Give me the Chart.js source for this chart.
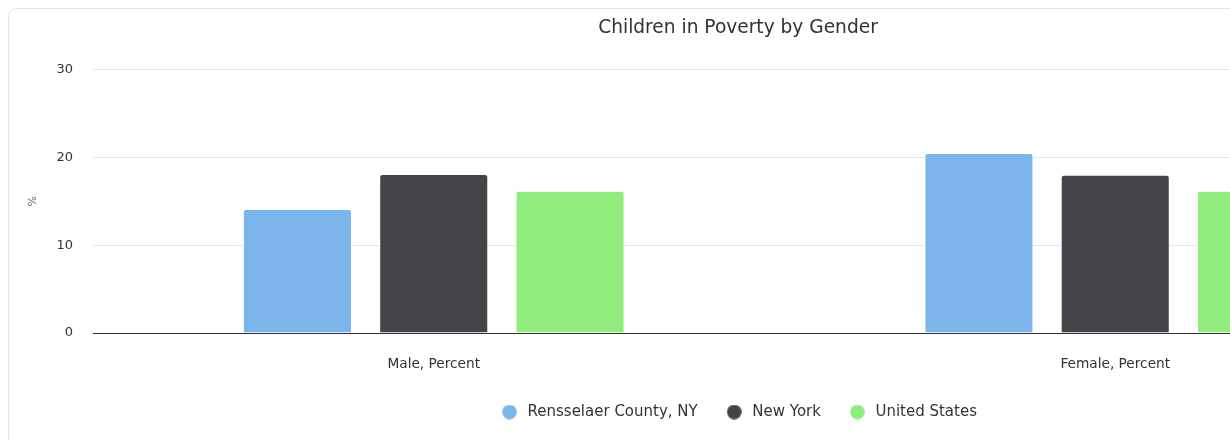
<!DOCTYPE html>
<html>
<head>
<meta charset="utf-8">
<script src="https://cdn.jsdelivr.net/npm/chart.js@4.4.1/dist/chart.umd.min.js"></script>
<style>
  html, body { margin: 0; padding: 0; background: #ffffff; overflow: hidden; width: 1230px; height: 440px; }
  #frame { position: absolute; left: 8px; top: 8px; width: 1470px; height: 460px; border: 1px solid #e3e3e3; border-radius: 8px; box-sizing: border-box; }
  #wrap { position: absolute; left: 0; top: 0; width: 1476px; height: 440px; }
</style>
</head>
<body>
<div id="frame"></div>
<div id="wrap"><canvas id="c" width="1476" height="440"></canvas></div>
<script>
const categories = ["Male, Percent", "Female, Percent"];
const seriesNames = ["Rensselaer County, NY", "New York", "United States"];
const rensselaerValues = [14.1, 20.5];
const newYorkValues = [18.1, 18.0];
const unitedStatesValues = [16.2, 16.2];
const yTicks = [0, 10, 20, 30];
const seriesColors = ["#7cb5ec", "#434348", "#90ed7d"];

const FONT = "'DejaVu Sans', sans-serif";

function circleImage(color) {
  const c = document.createElement('canvas');
  c.width = 15; c.height = 15;
  const g = c.getContext('2d');
  g.fillStyle = color;
  g.beginPath();
  g.arc(7.5, 7.5, 7.3, 0, Math.PI * 2);
  g.fill();
  return c;
}
const legendMarkers = seriesColors.map(circleImage);

const chart = new Chart(document.getElementById('c'), {
  type: 'bar',
  data: {
    labels: categories,
    datasets: [rensselaerValues, newYorkValues, unitedStatesValues].map((vals, i) => ({
      label: seriesNames[i],
      data: vals,
      backgroundColor: seriesColors[i],
      borderColor: '#ffffff',
      borderWidth: 1,
      borderRadius: { topLeft: 3, topRight: 3, bottomLeft: 0, bottomRight: 0 },
      borderSkipped: 'bottom',
      categoryPercentage: 0.6,
      barPercentage: 0.8
    }))
  },
  options: {
    responsive: false,
    animation: false,
    layout: { padding: { left: 20, right: 20, top: 0, bottom: 10.5 } },
    plugins: {
      title: {
        display: true,
        text: 'Children in Poverty by Gender',
        color: '#333333',
        font: { family: FONT, size: 18.6, weight: 'normal' },
        padding: { top: 17, bottom: 30.1 }
      },
      legend: {
        position: 'bottom',
        labels: {
          usePointStyle: true,
          boxHeight: 15,
          pointStyleWidth: 21,
          padding: 26,
          color: '#333333',
          font: { family: FONT, size: 15 },
          generateLabels: (ch) => {
            const items = Chart.defaults.plugins.legend.labels.generateLabels(ch);
            items.forEach((it, i) => { it.pointStyle = legendMarkers[i]; it.lineWidth = 0; });
            return items;
          }
        }
      },
      tooltip: { enabled: false }
    },
    scales: {
      x: {
        grid: { display: false, drawTicks: false },
        border: { display: true, color: '#333333', width: 1 },
        ticks: { color: '#333333', font: { family: FONT, size: 13.7 }, padding: 23, maxRotation: 0 },
        afterFit: (s) => { s.height = 45.5; }
      },
      y: {
        min: 0,
        max: 30,
        afterBuildTicks: (s) => { s.ticks = yTicks.map(v => ({ value: v })); },
        grid: { color: '#e6e6e6', drawTicks: false },
        border: { display: false },
        ticks: { color: '#333333', font: { family: FONT, size: 13 }, padding: 20 },
        title: { display: true, text: '%', color: '#666666', font: { family: FONT, size: 11 }, padding: { top: 7, bottom: 0 } },
        afterFit: (s) => { s.width = 73; }
      }
    }
  }
});
</script>
</body>
</html>
